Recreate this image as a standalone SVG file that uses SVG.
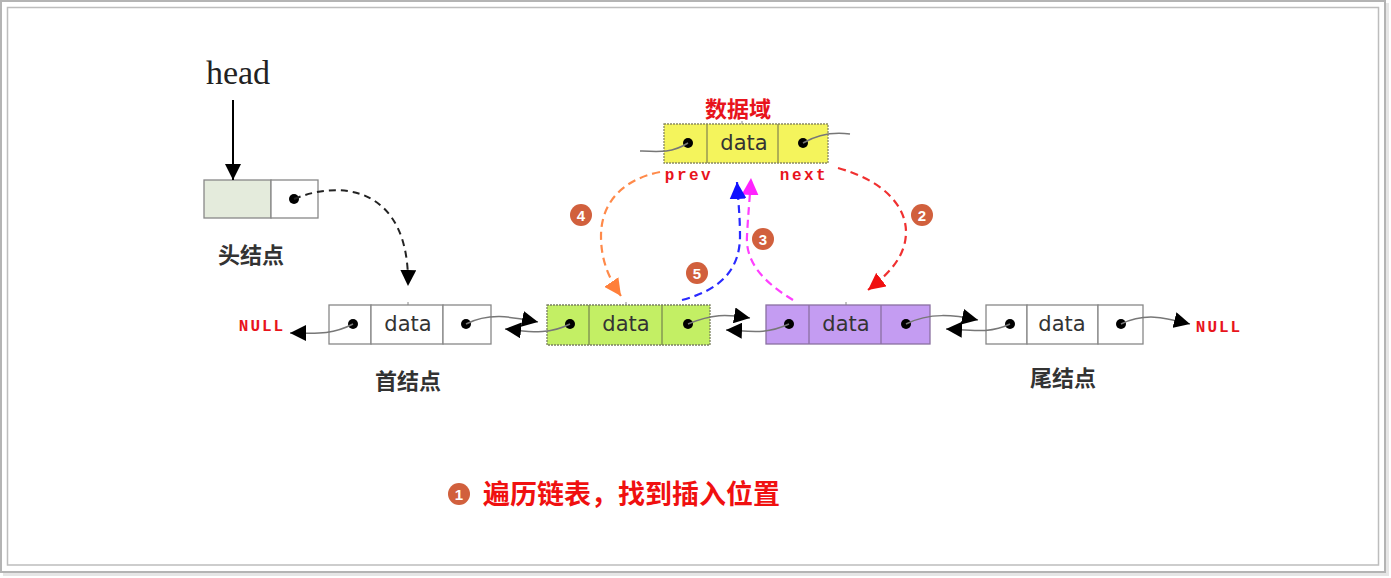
<svg xmlns="http://www.w3.org/2000/svg" width="1391" height="578" viewBox="0 0 1391 578">
<defs>
<style>
.cell{fill:#fff;stroke:#888;stroke-width:1.3}
.dot{fill:#000}
.data{font-family:"DejaVu Sans",sans-serif;font-size:21px;fill:#333;text-anchor:middle}
.lbl{font-family:"Noto Sans CJK SC",sans-serif;font-size:22px;font-weight:bold;fill:#333;text-anchor:middle}
.mono{font-family:"Liberation Mono","DejaVu Sans Mono",monospace;font-weight:bold;fill:#e8141c}
.gline{fill:none;stroke:#777;stroke-width:1.5}
.dash{fill:none;stroke-width:2.2;stroke-dasharray:8 5}
.badge{fill:#d1603d}
.bnum{font-family:"Liberation Sans",sans-serif;font-size:15px;font-weight:bold;fill:#fff;text-anchor:middle}
</style>
<marker id="ab" viewBox="0 0 10 10" refX="10" refY="5" markerWidth="16" markerHeight="16" markerUnits="userSpaceOnUse" orient="auto"><path d="M0,0 L10,5 L0,10 z" fill="#000"/></marker>
<marker id="ar" viewBox="0 0 10 10" refX="10" refY="5" markerWidth="17" markerHeight="17" markerUnits="userSpaceOnUse" orient="auto"><path d="M0,0 L10,5 L0,10 z" fill="#f01010"/></marker>
<marker id="ao" viewBox="0 0 10 10" refX="10" refY="5" markerWidth="17" markerHeight="17" markerUnits="userSpaceOnUse" orient="auto"><path d="M0,0 L10,5 L0,10 z" fill="#ff7f3a"/></marker>
<marker id="am" viewBox="0 0 10 10" refX="10" refY="5" markerWidth="17" markerHeight="17" markerUnits="userSpaceOnUse" orient="auto"><path d="M0,0 L10,5 L0,10 z" fill="#ff22ff"/></marker>
<marker id="abl" viewBox="0 0 10 10" refX="10" refY="5" markerWidth="17" markerHeight="17" markerUnits="userSpaceOnUse" orient="auto"><path d="M0,0 L10,5 L0,10 z" fill="#1010ff"/></marker>
</defs>
<rect x="0" y="0" width="1391" height="578" fill="#fff"/>
<rect x="3" y="3" width="1386" height="573" fill="#e6e6e6"/>
<rect x="1" y="1" width="1384" height="571" fill="#fff" stroke="#b4b4b4" stroke-width="2"/>
<rect x="7.5" y="7.5" width="1371" height="557.5" fill="#fff" stroke="#bdbdbd" stroke-width="1.5"/>

<g id="head-label">
<text x="238" y="84" font-family="Liberation Serif,serif" font-size="34" fill="#222" text-anchor="middle">head</text>
</g>
<g id="head-node">
<rect x="204" y="180" width="67" height="38" fill="#e4ebdc" stroke="#888" stroke-width="1.3"/>
<rect x="271" y="180" width="47" height="38" class="cell"/>
<circle cx="294" cy="199" r="5" class="dot"/>
<text x="251" y="263" class="lbl">头结点</text>
</g>

<g id="node1">
<rect x="329" y="305" width="42" height="39" class="cell"/>
<rect x="371" y="305" width="72" height="39" class="cell"/>
<rect x="443" y="305" width="48" height="39" class="cell"/>
<line x1="408" y1="302" x2="408" y2="305" stroke="#888"/>
<circle cx="353" cy="324" r="5" class="dot"/>
<circle cx="466" cy="324" r="5" class="dot"/>
<text x="408" y="331" class="data">data</text>
<text x="408" y="389" class="lbl">首结点</text>
</g>

<g id="node2">
<rect x="547" y="305" width="163" height="40" fill="#c3ef64" stroke="#7a8060" stroke-width="1.3" stroke-dasharray="2 1"/>
<line x1="589" y1="305" x2="589" y2="345" stroke="#7a8a50" stroke-width="1.3"/>
<line x1="662" y1="305" x2="662" y2="345" stroke="#7a8a50" stroke-width="1.3"/>
<line x1="626" y1="302" x2="626" y2="305" stroke="#888"/>
<circle cx="570" cy="324" r="5" class="dot"/>
<circle cx="688" cy="324" r="5" class="dot"/>
<text x="626" y="331" class="data">data</text>
</g>

<g id="node3">
<rect x="766" y="305" width="164" height="39" fill="#c49cf2" stroke="#8a70a0" stroke-width="1.3"/>
<line x1="809" y1="305" x2="809" y2="344" stroke="#8a70a0" stroke-width="1.3"/>
<line x1="881" y1="305" x2="881" y2="344" stroke="#8a70a0" stroke-width="1.3"/>
<line x1="846" y1="302" x2="846" y2="305" stroke="#888"/>
<circle cx="789" cy="324" r="5" class="dot"/>
<circle cx="906" cy="324" r="5" class="dot"/>
<text x="846" y="331" class="data">data</text>
</g>

<g id="node4">
<rect x="986" y="305" width="41" height="39" class="cell"/>
<rect x="1027" y="305" width="71" height="39" class="cell"/>
<rect x="1098" y="305" width="45" height="39" class="cell"/>
<circle cx="1010" cy="324" r="5" class="dot"/>
<circle cx="1121" cy="324" r="5" class="dot"/>
<text x="1062" y="331" class="data">data</text>
<text x="1063" y="386" class="lbl">尾结点</text>
</g>

<g id="new-node">
<text x="738" y="117" font-family="Noto Sans CJK SC,sans-serif" font-size="22" font-weight="bold" fill="#e8141c" text-anchor="middle">数据域</text>
<rect x="664" y="124" width="164" height="39" fill="#f4f45c" stroke="#8a8a60" stroke-width="1.3" stroke-dasharray="2 1"/>
<line x1="707" y1="124" x2="707" y2="163" stroke="#8a8a50" stroke-width="1.3"/>
<line x1="778" y1="124" x2="778" y2="163" stroke="#8a8a50" stroke-width="1.3"/>
<line x1="742" y1="121" x2="742" y2="124" stroke="#888"/>
<circle cx="688" cy="143" r="5" class="dot"/>
<circle cx="803" cy="143" r="5" class="dot"/>
<text x="744" y="150" class="data">data</text>
<text x="689" y="180" class="mono" font-size="16" letter-spacing="2.5" text-anchor="middle">prev</text>
<text x="804" y="180" class="mono" font-size="16" letter-spacing="2.5" text-anchor="middle">next</text>
</g>

<g id="null-left"><text x="262" y="331" class="mono" font-size="16" letter-spacing="2" text-anchor="middle">NULL</text></g>
<g id="null-right"><text x="1219" y="332" class="mono" font-size="16" letter-spacing="2" text-anchor="middle">NULL</text></g>

<g id="connectors">
<path d="M233,100 L233,180" stroke="#000" stroke-width="2" fill="none" marker-end="url(#ab)"/>
<path d="M294,199 C345,178 410,190 408,286" fill="none" stroke="#222" stroke-width="2" stroke-dasharray="7 5" marker-end="url(#ab)"/>
<path d="M353,324 C330,336 312,333 290,333" class="gline" marker-end="url(#ab)"/>
<path d="M466,324 C490,312 512,317 538,322" class="gline" marker-end="url(#ab)"/>
<path d="M570,324 C546,336 528,331 505,329" class="gline" marker-end="url(#ab)"/>
<path d="M688,324 C712,314 726,314 750,318" class="gline" marker-end="url(#ab)"/>
<path d="M789,324 C765,335 750,331 726,330" class="gline" marker-end="url(#ab)"/>
<path d="M906,324 C930,312 954,315 978,320" class="gline" marker-end="url(#ab)"/>
<path d="M1010,324 C990,334 970,330 946,329" class="gline" marker-end="url(#ab)"/>
<path d="M1121,324 C1146,312 1166,318 1190,324" class="gline" marker-end="url(#ab)"/>
<path d="M688,143 C672,153 660,152 640,151" class="gline"/>
<path d="M803,143 C820,133 835,132 850,134" class="gline"/>
<path d="M838,168 C882,180 906,205 906,232 C906,258 886,276 868,290" class="dash" stroke="#f03030" marker-end="url(#ar)"/>
<path d="M660,172 C620,180 601,205 601,236 C601,262 610,280 621,296" class="dash" stroke="#ff8a4a" marker-end="url(#ao)"/>
<path d="M793,300 C770,286 745,266 747,236 C748,215 750,196 751,178" class="dash" stroke="#ff40ff" marker-end="url(#am)"/>
<path d="M682,300 C720,290 740,270 740,236 C740,216 738,198 737,182" class="dash" stroke="#2a2aff" marker-end="url(#abl)"/>
</g>

<g id="badges">
<circle cx="922" cy="215" r="11" class="badge"/><text x="922" y="220.5" class="bnum">2</text>
<circle cx="763" cy="239" r="11" class="badge"/><text x="763" y="244.5" class="bnum">3</text>
<circle cx="581" cy="215" r="11" class="badge"/><text x="581" y="220.5" class="bnum">4</text>
<circle cx="697" cy="273" r="11" class="badge"/><text x="697" y="278.5" class="bnum">5</text>
</g>

<g id="caption">
<circle cx="459" cy="494" r="11" class="badge"/><text x="459" y="499.5" class="bnum">1</text>
<text x="483" y="504" font-family="Noto Sans CJK SC,sans-serif" font-size="27" font-weight="bold" fill="#f01010">遍历链表，找到插入位置</text>
</g>
</svg>
